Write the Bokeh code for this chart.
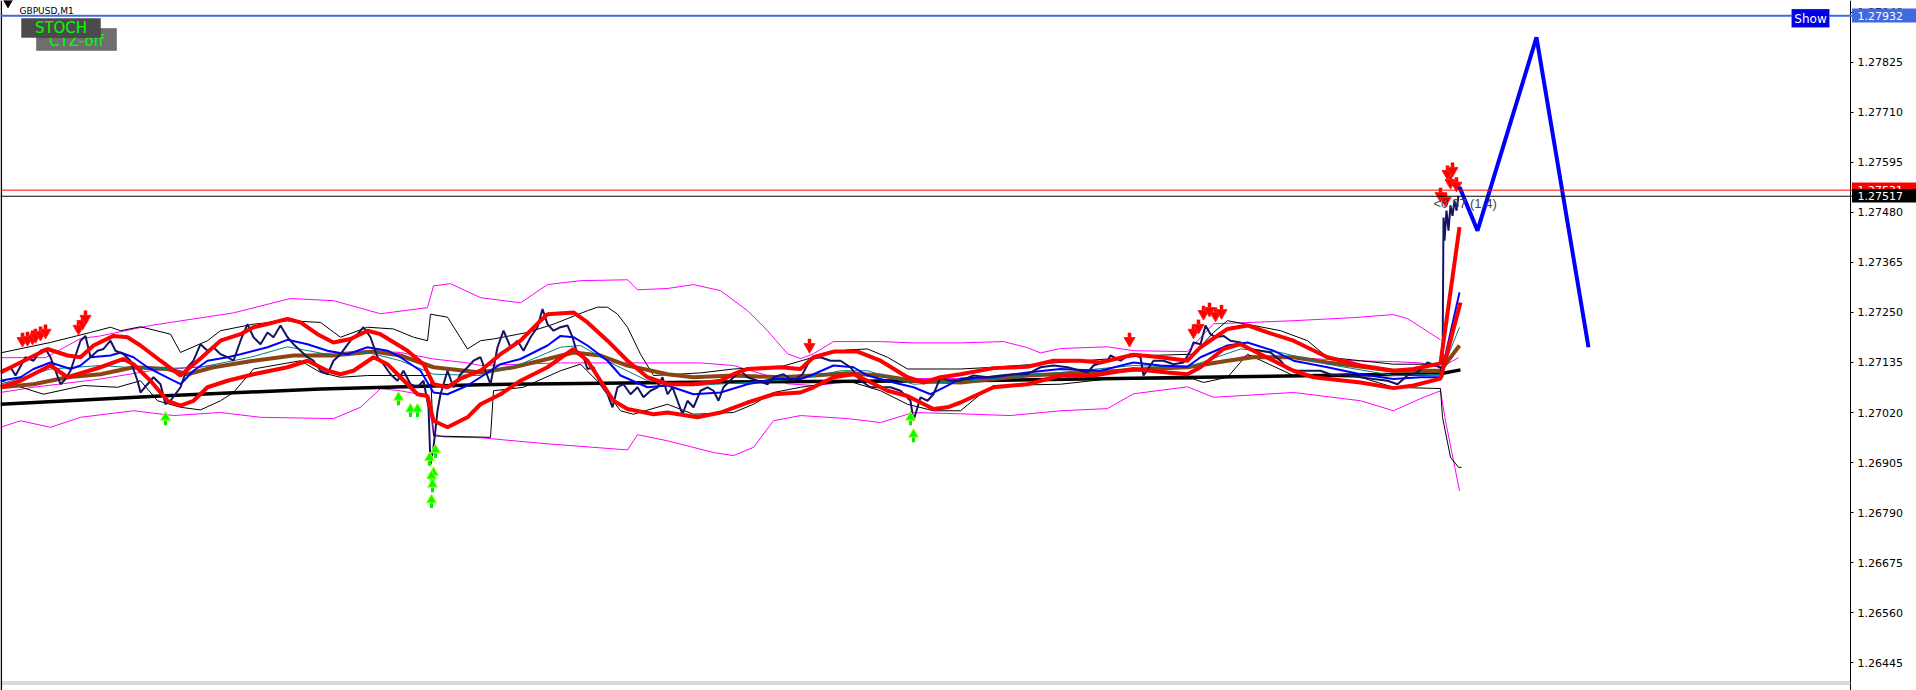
from bokeh.plotting import figure
from bokeh.models import Range1d, FixedTicker, PrintfTickFormatter, Span, Label, BoxAnnotation
from bokeh.embed import file_html
from bokeh.resources import INLINE

# ---------------- data (bar index, price) ----------------
PRICE = [(0,1.27116),(10,1.27124),(15,1.27105),(25,1.27147),(33,1.27139),(40,1.27162),(45,1.27166),(50,1.27147),
 (55,1.27116),(60,1.27085),(65,1.27097),(70,1.27116),(80,1.27185),(85,1.27196),(90,1.27147),(97,1.27162),
 (103,1.27166),(110,1.27185),(115,1.27162),(123,1.27154),(130,1.27139),(137,1.27093),(140,1.27066),(147,1.27085),
 (153,1.27101),(160,1.27085),(165,1.27039),(170,1.27047),(180,1.27078),(187,1.27124),(193,1.27139),(200,1.27177),
 (207,1.27162),(213,1.27170),(220,1.27154),(227,1.27147),(233,1.27139),(240,1.27185),(247,1.27223),(253,1.27193),
 (260,1.27177),(267,1.27204),(273,1.27193),(280,1.27220),(287,1.27193),(293,1.27177),(300,1.27162),(307,1.27147),
 (313,1.27139),(320,1.27116),(327,1.27108),(333,1.27139),(340,1.27154),(350,1.27185),(357,1.27200),(363,1.27216),
 (370,1.27193),(377,1.27147),(383,1.27131),(390,1.27108),(397,1.27093),(403,1.27116),(410,1.27085),(417,1.27078),
 (423,1.27093),(428,1.27032),(430,1.26901),(433,1.26940),(437,1.27024),(440,1.27062),(447,1.27116),(453,1.27078),
 (460,1.27108),(467,1.27124),(473,1.27139),(480,1.27147),(490,1.27085),(497,1.27170),(503,1.27208),(510,1.27170),
 (517,1.27185),(523,1.27162),(530,1.27193),(537,1.27216),(542,1.27258),(547,1.27223),(553,1.27208),(560,1.27216),
 (567,1.27220),(572,1.27193),(577,1.27154),(583,1.27147),(587,1.27120),(593,1.27124),(600,1.27085),(607,1.27062),
 (612,1.27032),(617,1.27078),(623,1.27085),(630,1.27062),(637,1.27078),(643,1.27055),(650,1.27070),(657,1.27078),
 (662,1.27101),(667,1.27062),(672,1.27078),(677,1.27047),(682,1.27016),(687,1.27047),(693,1.27032),(700,1.27070),
 (707,1.27078),(713,1.27070),(718,1.27047),(723,1.27078),(733,1.27101),(740,1.27116),(747,1.27101),(757,1.27093),
 (767,1.27085),(773,1.27101),(783,1.27108),(793,1.27093),(802,1.27108),(810,1.27143),(820,1.27147),(830,1.27139),
 (840,1.27139),(850,1.27124),(860,1.27093),(870,1.27078),(880,1.27078),(890,1.27078),(900,1.27070),(910,1.27047),
 (913,1.27001),(920,1.27055),(927,1.27047),(933,1.27062),(940,1.27101),(950,1.27093),(960,1.27093),(973,1.27105),
 (987,1.27101),(1000,1.27105),(1013,1.27108),(1027,1.27108),(1040,1.27124),(1053,1.27128),(1067,1.27124),
 (1080,1.27116),(1087,1.27112),(1093,1.27128),(1107,1.27139),(1110,1.27151),(1120,1.27139),(1130,1.27154),
 (1140,1.27147),(1143,1.27105),(1153,1.27139),(1163,1.27139),(1173,1.27131),(1183,1.27135),(1190,1.27162),
 (1193,1.27181),(1200,1.27177),(1205,1.27220),(1210,1.27200),(1215,1.27193),(1223,1.27196),(1230,1.27185),
 (1240,1.27181),(1250,1.27166),(1260,1.27162),(1270,1.27158),(1280,1.27139),(1287,1.27120),(1293,1.27116),
 (1307,1.27116),(1320,1.27116),(1333,1.27105),(1347,1.27108),(1360,1.27101),(1373,1.27097),(1387,1.27093),
 (1397,1.27085),(1407,1.27105),(1417,1.27112),(1427,1.27135),(1440,1.27124),(1442,1.27101),(1443,1.27468),
 (1444,1.27415),(1446,1.27484),(1448,1.27438),(1450,1.27496),(1452,1.27472),(1454,1.27507),(1456,1.27484),
 (1458,1.27518)]

MA_LONG = [(0,1.27039),(160,1.27058),(320,1.27074),(480,1.27084),(720,1.27090),(960,1.27093),(1200,1.27101),
 (1440,1.27109),(1460,1.27118)]

MA_BROWN = [(0,1.27078),(33,1.27085),(67,1.27101),(100,1.27108),(133,1.27124),(167,1.27120),(187,1.27108),
 (213,1.27124),(253,1.27139),(293,1.27151),(333,1.27151),(373,1.27160),(400,1.27151),(433,1.27124),(480,1.27112),
 (513,1.27124),(547,1.27143),(573,1.27158),(600,1.27151),(627,1.27128),(667,1.27108),(693,1.27101),(733,1.27105),
 (780,1.27101),(813,1.27105),(847,1.27110),(880,1.27105),(913,1.27093),(960,1.27089),(1027,1.27105),(1093,1.27112),
 (1147,1.27120),(1187,1.27124),(1227,1.27139),(1253,1.27147),(1293,1.27147),(1327,1.27135),(1393,1.27116),
 (1440,1.27116),(1459,1.27174)]

MA_BLUE = [(0,1.27093),(20,1.27101),(33,1.27120),(50,1.27135),(70,1.27120),(80,1.27128),(90,1.27147),(110,1.27151),
 (120,1.27158),(133,1.27147),(147,1.27124),(160,1.27108),(180,1.27085),(193,1.27116),(207,1.27139),(227,1.27147),
 (240,1.27154),(267,1.27170),(287,1.27187),(307,1.27177),(327,1.27162),(347,1.27154),(367,1.27170),(387,1.27162),
 (400,1.27147),(420,1.27116),(433,1.27066),(447,1.27062),(467,1.27082),(480,1.27101),(500,1.27131),(520,1.27143),
 (547,1.27174),(560,1.27196),(573,1.27193),(587,1.27174),(607,1.27139),(620,1.27105),(647,1.27078),(667,1.27082),
 (693,1.27062),(720,1.27066),(747,1.27085),(773,1.27097),(800,1.27097),(813,1.27108),(833,1.27128),(853,1.27124),
 (867,1.27105),(893,1.27089),(913,1.27078),(930,1.27062),(947,1.27082),(960,1.27098),(993,1.27101),(1027,1.27112),
 (1060,1.27120),(1100,1.27116),(1133,1.27135),(1160,1.27128),(1187,1.27125),(1200,1.27147),(1227,1.27174),
 (1247,1.27181),(1273,1.27162),(1293,1.27139),(1327,1.27124),(1360,1.27108),(1393,1.27097),(1420,1.27101),
 (1440,1.27101),(1459,1.27296)]

MA_TEAL = [(0,1.27085),(50,1.27120),(100,1.27128),(150,1.27120),(200,1.27124),(250,1.27147),(287,1.27171),
 (333,1.27151),(367,1.27158),(400,1.27139),(433,1.27108),(480,1.27105),(520,1.27131),(560,1.27170),(580,1.27174),
 (613,1.27131),(647,1.27093),(693,1.27082),(747,1.27089),(800,1.27097),(840,1.27116),(867,1.27116),(913,1.27085),
 (960,1.27091),(1060,1.27112),(1133,1.27128),(1187,1.27124),(1240,1.27166),(1280,1.27158),(1327,1.27131),
 (1393,1.27105),(1440,1.27108),(1459,1.27216)]

ENV_UPPER = [(0,1.27112),(47,1.27166),(67,1.27151),(80,1.27147),(93,1.27174),(113,1.27196),(127,1.27193),
 (140,1.27174),(160,1.27139),(180,1.27105),(200,1.27144),(220,1.27185),(240,1.27200),(253,1.27216),(273,1.27227),
 (287,1.27235),(300,1.27227),(317,1.27200),(333,1.27181),(350,1.27189),(367,1.27208),(380,1.27200),(407,1.27162),
 (423,1.27131),(433,1.27085),(447,1.27078),(460,1.27098),(480,1.27116),(500,1.27154),(520,1.27185),(540,1.27231),
 (547,1.27246),(573,1.27250),(587,1.27227),(607,1.27185),(627,1.27139),(647,1.27101),(667,1.27085),(693,1.27085),
 (720,1.27093),(733,1.27108),(747,1.27120),(780,1.27124),(800,1.27120),(813,1.27147),(833,1.27160),(857,1.27160),
 (880,1.27139),(907,1.27101),(923,1.27089),(940,1.27101),(960,1.27108),(993,1.27122),(1027,1.27125),(1053,1.27139),
 (1080,1.27139),(1100,1.27135),(1133,1.27153),(1160,1.27147),(1187,1.27139),(1200,1.27170),(1227,1.27212),
 (1247,1.27220),(1267,1.27204),(1293,1.27185),(1327,1.27147),(1360,1.27128),(1393,1.27116),(1413,1.27120),
 (1440,1.27133),(1459,1.27446)]

ENV_LOWER = [(0,1.27078),(20,1.27093),(50,1.27128),(67,1.27101),(100,1.27124),(123,1.27143),(133,1.27131),
 (150,1.27093),(167,1.27047),(180,1.27036),(193,1.27047),(207,1.27078),(227,1.27093),(253,1.27108),(287,1.27124),
 (307,1.27139),(327,1.27116),(340,1.27108),(353,1.27116),(373,1.27147),(387,1.27131),(400,1.27101),(417,1.27062),
 (427,1.27058),(433,1.27001),(447,1.26986),(467,1.27009),(480,1.27039),(500,1.27062),(520,1.27093),(547,1.27124),
 (573,1.27166),(587,1.27139),(600,1.27093),(613,1.27047),(627,1.27028),(653,1.27016),(667,1.27020),(697,1.27009),
 (720,1.27020),(747,1.27043),(773,1.27062),(800,1.27066),(813,1.27078),(833,1.27101),(853,1.27108),(867,1.27093),
 (887,1.27070),(907,1.27058),(933,1.27028),(947,1.27032),(960,1.27043),(993,1.27078),(1027,1.27085),(1060,1.27105),
 (1093,1.27105),(1133,1.27120),(1167,1.27112),(1187,1.27108),(1200,1.27124),(1223,1.27166),(1240,1.27177),
 (1253,1.27162),(1273,1.27139),(1293,1.27116),(1313,1.27101),(1360,1.27089),(1393,1.27076),(1413,1.27082),
 (1440,1.27098),(1460,1.27273)]

BB_UPPER = [(0,1.27157),(50,1.27181),(90,1.27204),(110,1.27216),(120,1.27208),(140,1.27217),(170,1.27200),
 (180,1.27158),(207,1.27185),(220,1.27208),(253,1.27223),(287,1.27231),(320,1.27227),(340,1.27193),(367,1.27216),
 (393,1.27212),(413,1.27193),(427,1.27185),(430,1.27246),(447,1.27239),(467,1.27166),(480,1.27185),(493,1.27189),
 (527,1.27204),(553,1.27223),(587,1.27254),(597,1.27262),(607,1.27262),(617,1.27246),(627,1.27216),(640,1.27154),
 (653,1.27105),(700,1.27111),(733,1.27120),(780,1.27125),(813,1.27147),(847,1.27164),(867,1.27166),(887,1.27147),
 (907,1.27120),(960,1.27120),(993,1.27124),(1107,1.27143),(1147,1.27151),(1193,1.27154),(1213,1.27204),
 (1227,1.27231),(1253,1.27220),(1280,1.27208),(1307,1.27185),(1327,1.27147),(1360,1.27139),(1393,1.27131),
 (1440,1.27131)]

BB_LOWER = [(0,1.27093),(43,1.27062),(83,1.27082),(117,1.27078),(140,1.27093),(157,1.27047),(180,1.27032),
 (200,1.27026),(220,1.27047),(233,1.27066),(253,1.27120),(300,1.27139),(320,1.27112),(340,1.27101),(367,1.27105),
 (400,1.27105),(430,1.27105),(433,1.26966),(490,1.26963),(493,1.27070),(523,1.27078),(560,1.27116),(580,1.27131),
 (600,1.27085),(620,1.27024),(633,1.27016),(667,1.27039),(693,1.27016),(733,1.27020),(753,1.27039),(773,1.27066),
 (800,1.27078),(847,1.27093),(880,1.27070),(907,1.27039),(933,1.27024),(960,1.27024),(980,1.27062),(993,1.27082),
 (1060,1.27085),(1107,1.27097),(1193,1.27097),(1203,1.27089),(1227,1.27101),(1247,1.27154),(1293,1.27105),
 (1360,1.27101),(1393,1.27078),(1440,1.27075),(1442,1.27009),(1450,1.26917),(1458,1.26894),(1461,1.26894)]

CH_UPPER = [(0,1.27146),(45,1.27146),(80,1.27190),(100,1.27196),(150,1.27220),(233,1.27249),(290,1.27282),
 (333,1.27277),(380,1.27247),(427,1.27261),(433,1.27311),(450,1.27316),(480,1.27284),(520,1.27272),(547,1.27314),
 (580,1.27323),(627,1.27325),(637,1.27302),(667,1.27305),(693,1.27314),(720,1.27300),(747,1.27254),(767,1.27208),
 (787,1.27155),(800,1.27144),(813,1.27155),(833,1.27183),(880,1.27183),(913,1.27180),(960,1.27180),(1003,1.27183),
 (1027,1.27169),(1040,1.27157),(1060,1.27167),(1107,1.27171),(1133,1.27162),(1187,1.27160),(1213,1.27224),
 (1240,1.27226),(1293,1.27231),(1353,1.27238),(1393,1.27245),(1407,1.27236),(1440,1.27187)]

CH_MIDDLE = [(0,1.27066),(33,1.27078),(100,1.27097),(150,1.27116),(233,1.27131),(293,1.27151),(367,1.27162),
 (400,1.27158),(433,1.27143),(467,1.27134),(480,1.27128),(560,1.27134),(647,1.27134),(700,1.27134),(733,1.27128),
 (767,1.27105),(787,1.27086),(813,1.27082),(860,1.27093),(907,1.27098),(960,1.27098),(1000,1.27105),(1060,1.27111),
 (1133,1.27116),(1187,1.27123),(1213,1.27131),(1247,1.27151),(1293,1.27146),(1353,1.27139),(1393,1.27137),
 (1420,1.27134),(1440,1.27123),(1458,1.27146)]

CH_LOWER = [(0,1.26986),(20,1.27001),(50,1.26986),(80,1.27009),(133,1.27024),(173,1.27013),(220,1.27020),
 (260,1.27009),(333,1.27006),(360,1.27032),(380,1.27075),(400,1.27070),(427,1.27058),(433,1.26971),(443,1.26964),
 (480,1.26962),(547,1.26948),(627,1.26934),(637,1.26969),(667,1.26955),(713,1.26928),(733,1.26921),(753,1.26940),
 (773,1.27001),(800,1.27013),(847,1.27006),(880,1.26997),(913,1.27020),(960,1.27017),(1010,1.27013),(1060,1.27024),
 (1107,1.27029),(1133,1.27063),(1187,1.27079),(1213,1.27055),(1293,1.27066),(1360,1.27047),(1393,1.27024),
 (1420,1.27052),(1440,1.27070),(1445,1.27001),(1459,1.26840)]

BUY_X = [165, 398, 410, 417, 435, 429, 433, 431, 432, 431, 910, 913]
BUY_Y = [1.27009, 1.27055, 1.27028, 1.27028, 1.26934, 1.26916, 1.26882, 1.26874, 1.26855, 1.26819, 1.27009, 1.26970]

SELL_X = [22, 27, 32, 35, 40, 45, 78, 82, 85, 809, 1129, 1193, 1198, 1203, 1209, 1215, 1221, 1447, 1452, 1450, 1456, 1440, 1445]
SELL_Y = [1.27185, 1.27187, 1.27190, 1.27194, 1.27199, 1.27204, 1.27213, 1.27224, 1.27236, 1.27171, 1.27185, 1.27204,
          1.27215, 1.27247, 1.27254, 1.27243, 1.27249, 1.27569, 1.27576, 1.27548, 1.27542, 1.27518, 1.27507]

ZIGZAG_X = [1459, 1477, 1536, 1588]
ZIGZAG_Y = [1.27538, 1.27438, 1.27882, 1.27170]

TARGET_LEVEL = 1.27932
ASK_LEVEL = 1.27531
BID_LEVEL = 1.27517

Y_TICKS = [1.26445, 1.26560, 1.26675, 1.26790, 1.26905, 1.27020, 1.27135, 1.27250, 1.27365,
           1.27480, 1.27595, 1.27710, 1.27825, 1.27940]

# ---------------- layout helpers ----------------
PX = 0.00002298          # price per pixel of the chart scale
Y_TOP = 1.279668         # price at the top pixel row
AXIS_X = 1850            # price scale position (bars)
def py(ypx):
    return Y_TOP - ypx * PX

def xy(pairs):
    return [a for a, _ in pairs], [b for _, b in pairs]

p = figure(width=1916, height=690,
           x_range=Range1d(0, 1916), y_range=Range1d(py(690), py(0)),
           output_backend="svg", toolbar_location=None,
           x_axis_location=None, y_axis_location="right",
           min_border_left=0, min_border_top=0, min_border_bottom=0, min_border_right=0,
           outline_line_color=None,
           background_fill_color="white", border_fill_color="white")
p.grid.visible = False

ax = p.yaxis[0]
ax.fixed_location = AXIS_X
ax.ticker = FixedTicker(ticks=Y_TICKS)
ax.formatter = PrintfTickFormatter(format="%.5f")
ax.major_label_text_font = "DejaVu Sans"
ax.major_label_text_font_size = "11px"
ax.major_label_text_color = "#000000"
ax.major_tick_out = 3
ax.major_tick_in = 0
ax.minor_tick_out = 0
ax.minor_tick_in = 0
ax.major_label_standoff = 4
ax.axis_line_color = "black"
ax.major_tick_line_color = "black"

# window frame (left edge, double bottom line)
p.add_layout(BoxAnnotation(left=0.5, right=AXIS_X, top=py(681.5), bottom=py(683.5),
                           fill_color="white", fill_alpha=1, line_color="black", line_width=1))
p.add_layout(Span(location=0.8, dimension="height", line_color="black", line_width=1.5))

# channel (magenta)
for series in (CH_UPPER, CH_MIDDLE, CH_LOWER):
    xs, ys = xy(series)
    p.line(xs, ys, line_color="#ff00ff", line_width=1)
# bands (thin black)
for series in (BB_UPPER, BB_LOWER):
    xs, ys = xy(series)
    p.line(xs, ys, line_color="black", line_width=1)
# long MA
xs, ys = xy(MA_LONG)
p.line(xs, ys, line_color="black", line_width=3.5)
# brown MA
xs, ys = xy(MA_BROWN)
p.line(xs, ys, line_color="#8B4513", line_width=4)
# teal MA
xs, ys = xy(MA_TEAL)
p.line(xs, ys, line_color="#008080", line_width=1)
# blue MA
xs, ys = xy(MA_BLUE)
p.line(xs, ys, line_color="#0000ff", line_width=2)
# price
xs, ys = xy(PRICE)
p.line(xs, ys, line_color="#141464", line_width=2)
# red envelope
for series in (ENV_UPPER, ENV_LOWER):
    xs, ys = xy(series)
    p.line(xs, ys, line_color="#ff0000", line_width=4)

# buy arrows (up)
stem = 8 * PX
p.segment(x0=BUY_X, y0=BUY_Y, x1=BUY_X, y1=[v - stem for v in BUY_Y], line_color="#00ee00", line_width=3)
p.scatter(BUY_X, BUY_Y, marker="triangle", size=10, fill_color="#00ff00", line_color="#b4ff28", line_width=1)
# sell arrows (down)
p.segment(x0=SELL_X, y0=SELL_Y, x1=SELL_X, y1=[v + stem for v in SELL_Y], line_color="#ff0000", line_width=3.5)
p.scatter(SELL_X, SELL_Y, marker="inverted_triangle", size=11, fill_color="#ff0000", line_color="#ff2020", line_width=1)

# zigzag projection
p.line(ZIGZAG_X, ZIGZAG_Y, line_color="#0000ff", line_width=4)

# symbol marker triangle
p.scatter([7.5], [py(2)], marker="inverted_triangle", size=9, fill_color="black", line_color="black")

# horizontal levels
p.add_layout(Span(location=TARGET_LEVEL, dimension="width", line_color="#4169E1", line_width=2))
p.add_layout(Span(location=ASK_LEVEL, dimension="width", line_color="#ff0000", line_width=1))
p.add_layout(Span(location=BID_LEVEL, dimension="width", line_color="#000000", line_width=1))

# price tags on the scale
def tag(level, text, fill, top_px, bot_px):
    p.add_layout(BoxAnnotation(left=AXIS_X + 1.5, right=1916, top=py(top_px), bottom=py(bot_px),
                               fill_color=fill, fill_alpha=1, line_alpha=0))
    p.add_layout(Label(x=AXIS_X + 7, y=level, text=text, text_align="left", text_baseline="middle",
                       text_color="white", text_font="DejaVu Sans", text_font_size="11px"))

tag(TARGET_LEVEL, "1.27932", "#4169E1", 8, 22)
tag(ASK_LEVEL, "1.27531", "#ff0000", 182, 196)
tag(BID_LEVEL, "1.27517", "#000000", 188.5, 202)

# "Show" button
p.add_layout(BoxAnnotation(left=1791, right=1829, top=py(8.5), bottom=py(27),
                           fill_color="#0000e6", fill_alpha=1, line_color="#c8c8c8", line_width=1))
p.add_layout(Label(x=1810, y=py(18), text="Show", text_align="center", text_baseline="middle",
                   text_color="white", text_font="DejaVu Sans", text_font_size="12px"))

# CTZ-off / STOCH buttons
p.add_layout(BoxAnnotation(left=36, right=116, top=py(28), bottom=py(50),
                           fill_color="#6e6e6e", fill_alpha=1, line_color="#1e1e1e", line_width=1))
p.add_layout(Label(x=76, y=py(40), text="CTZ-off", text_align="center", text_baseline="middle",
                   text_color="#00ff00", text_font="DejaVu Sans", text_font_size="15px"))
p.add_layout(BoxAnnotation(left=21, right=100, top=py(18), bottom=py(37),
                           fill_color="#4b4b4b", fill_alpha=1, line_color="#1e1e1e", line_width=1))
p.add_layout(Label(x=60.5, y=py(27.5), text="STOCH", text_align="center", text_baseline="middle",
                   text_color="#00ff00", text_font="DejaVu Sans", text_font_size="15px"))

# symbol caption
p.add_layout(Label(x=19, y=py(10), text="GBPUSD,M1", text_align="left", text_baseline="alphabetic",
                   text_color="#000000", text_font="DejaVu Sans", text_font_size="9px"))

# spread info
p.add_layout(Label(x=1433, y=py(203), text="<0.37 (1.4)", text_align="left", text_baseline="middle",
                   text_color="#3c4650", text_font="Liberation Sans", text_font_size="13px"))

open("out.html", "w").write(file_html(p, INLINE))
